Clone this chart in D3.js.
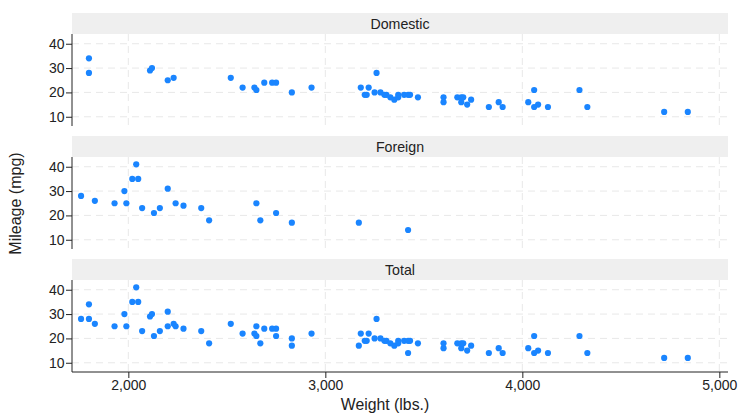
<!DOCTYPE html>
<html>
<head>
<meta charset="utf-8">
<script src="https://cdn.jsdelivr.net/npm/d3@7"></script>
<style>
  body { margin: 0; background: #fff; }
  text { font-family: "Liberation Sans", Arial, sans-serif; fill: #222; }
</style>
</head>
<body>
<div id="vis"></div>
<script>
// Chart size
const FRAME_WIDTH = 738;
const FRAME_HEIGHT = 416;
const PLOT_LEFT = 72;
const PLOT_RIGHT = 728;

// Data (auto dataset: weight vs mileage)
const domesticWeight = [2930, 3350, 2640, 3250, 4080, 3670, 2230, 3280, 3880, 3400,
  4330, 3900, 4290, 2110, 3690, 3180, 3220, 2750, 3430, 2120, 3600, 3600, 3740,
  1800, 2650, 4840, 4720, 3830, 2580, 4060, 3720, 3370, 4130, 2830, 4060, 3310,
  3300, 3690, 3370, 2730, 4030, 3260, 1800, 2200, 2520, 3330, 3700, 3470, 3210,
  3200, 3420, 2690];
const domesticMpg = [22, 17, 22, 20, 15, 18, 26, 20, 16, 19, 14, 14, 21, 29, 16, 22,
  22, 24, 19, 30, 18, 16, 17, 28, 21, 12, 12, 14, 22, 14, 15, 18, 14, 20, 21, 19,
  19, 18, 19, 24, 16, 28, 34, 25, 26, 18, 18, 18, 19, 19, 19, 24];
const foreignWeight = [2830, 2070, 2650, 2370, 2020, 2280, 2750, 2130, 2240, 1760,
  1980, 3420, 1830, 2050, 2410, 2200, 2670, 2160, 2040, 1930, 1990, 3170];
const foreignMpg = [17, 23, 25, 23, 35, 24, 21, 21, 25, 28, 30, 14, 26, 35, 18, 31,
  18, 23, 41, 25, 25, 17];

const xTicks = [2000, 3000, 4000, 5000];
const yTicks = [10, 20, 30, 40];

// Panels: header top and plot area
const panels = [
  {name: "Domestic", top: 13, w: domesticWeight, m: domesticMpg},
  {name: "Foreign", top: 136, w: foreignWeight, m: foreignMpg},
  {name: "Total", top: 259, w: domesticWeight.concat(foreignWeight),
   m: domesticMpg.concat(foreignMpg)}
];
const HEADER_H = 21;
const PLOT_H = 92;
const FONT = "Liberation Sans, Arial, sans-serif";

const svg = d3.select("#vis").append("svg")
  .attr("width", FRAME_WIDTH)
  .attr("height", FRAME_HEIGHT);

const X_SCALE = d3.scaleLinear().domain([1714, 5044]).range([PLOT_LEFT, PLOT_RIGHT]);

panels.forEach((p, i) => {
  const plotTop = p.top + HEADER_H;
  const Y_SCALE = d3.scaleLinear().domain([6.2, 44]).range([plotTop + PLOT_H, plotTop]);

  // header strip
  svg.append("rect")
    .attr("x", PLOT_LEFT).attr("y", p.top)
    .attr("width", PLOT_RIGHT - PLOT_LEFT).attr("height", HEADER_H)
    .attr("fill", "#efefef");
  svg.append("text")
    .attr("x", (PLOT_LEFT + PLOT_RIGHT) / 2).attr("y", p.top + 15.5)
    .attr("text-anchor", "middle").attr("font-size", 14.2)
    .text(p.name);

  // grid lines
  svg.append("g").selectAll("line").data(yTicks).enter().append("line")
    .attr("x1", PLOT_LEFT).attr("x2", PLOT_RIGHT)
    .attr("y1", d => Y_SCALE(d)).attr("y2", d => Y_SCALE(d))
    .attr("stroke", "#e8e8e8").attr("stroke-dasharray", "7,5");
  svg.append("g").selectAll("line").data(xTicks).enter().append("line")
    .attr("x1", d => X_SCALE(d)).attr("x2", d => X_SCALE(d))
    .attr("y1", plotTop).attr("y2", plotTop + PLOT_H)
    .attr("stroke", "#e8e8e8").attr("stroke-dasharray", "7,5");

  // y axis
  const yAxis = svg.append("g")
    .attr("transform", "translate(" + PLOT_LEFT + ",0)")
    .call(d3.axisLeft(Y_SCALE).tickValues(yTicks).tickSize(6).tickPadding(1.5));
  yAxis.select(".domain").attr("d", "M0," + plotTop + "V" + (plotTop + PLOT_H)).attr("stroke", "#222");
  yAxis.selectAll(".tick line").attr("stroke", "#222");
  yAxis.selectAll("text").attr("font-size", 14).attr("font-family", FONT).attr("fill", "#222");

  // x axis on last panel only
  if (i === panels.length - 1) {
    const xAxis = svg.append("g")
      .attr("transform", "translate(0," + (plotTop + PLOT_H) + ")")
      .call(d3.axisBottom(X_SCALE).tickValues(xTicks).tickSize(6).tickPadding(2)
        .tickFormat(d3.format(",")));
    xAxis.select(".domain").attr("d", "M" + PLOT_LEFT + ",0H" + PLOT_RIGHT).attr("stroke", "#222");
    xAxis.selectAll(".tick line").attr("stroke", "#222");
    xAxis.selectAll("text").attr("font-size", 14).attr("font-family", FONT).attr("fill", "#222");
  }

  // points
  svg.append("g").selectAll("circle").data(p.w).enter().append("circle")
    .attr("cx", d => X_SCALE(d))
    .attr("cy", (d, j) => Y_SCALE(p.m[j]))
    .attr("r", 3.1)
    .attr("fill", "#1a85ff");
});

// axis titles
svg.append("text")
  .attr("x", 385).attr("y", 410)
  .attr("text-anchor", "middle").attr("font-size", 15.8)
  .text("Weight (lbs.)");
svg.append("text")
  .attr("transform", "translate(21,203.5) rotate(-90)")
  .attr("text-anchor", "middle").attr("font-size", 16)
  .text("Mileage (mpg)");
</script>
</body>
</html>
